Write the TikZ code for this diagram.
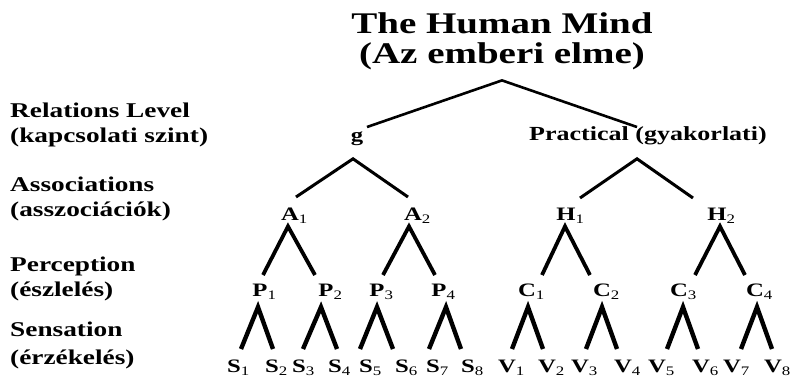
\documentclass[tikz,border=0pt]{standalone}
\usepackage{fontspec}
\setmainfont{Liberation Serif}[FakeStretch=1.3]
\usetikzlibrary{calc}

% index digit that does not widen the node
\newcommand\lowidx[1]{\rlap{\raisebox{-3pt}{\fontsize{13}{13}\selectfont\mdseries #1}}}

\begin{document}
\begin{tikzpicture}[
  x=1pt, y=-1pt,
  every node/.style={inner sep=0pt},
  heading/.style={anchor=base, font=\fontsize{30}{30}\selectfont\bfseries},
  lvl/.style={anchor=base west, align=left, font=\fontsize{21}{25}\selectfont\bfseries},
  item/.style={anchor=base, font=\fontsize{19}{19}\selectfont\bfseries},
  branch/.style={line width=#1, miter limit=20}
]
\useasboundingbox (0,0) rectangle (792,378);

\node[heading] (title) at (502,33) {The Human Mind};
\node[heading] (titlehu) at (502,63) {(Az emberi elme)};

% level names (placed by their second line)
\node[lvl] (relations) at (10,142) {Relations Level\\(kapcsolati szint)};
\node[lvl] (assoc) at (10,216) {Associations\\(asszociációk)};
\node[lvl] (percep) at (10,296) {Perception\\(észlelés)};
\node[lvl] (sensa) at (10,364) {Sensation\\[3pt](érzékelés)};

% tree
\node[item] (g) at (357,141) {g};
\node[item, font=\fontsize{20}{20}\selectfont\bfseries] (prac) at (648,140) {Practical (gyakorlati)};
\node[item] (A1) at (290,220) {A\lowidx{1}};
\node[item] (A2) at (413,220) {A\lowidx{2}};
\node[item] (H1) at (566,220) {H\lowidx{1}};
\node[item] (H2) at (717,220) {H\lowidx{2}};
\node[item] (P1) at (260,296) {P\lowidx{1}};
\node[item] (P2) at (326,296) {P\lowidx{2}};
\node[item] (P3) at (377,296) {P\lowidx{3}};
\node[item] (P4) at (439,296) {P\lowidx{4}};
\node[item] (C1) at (527,296) {C\lowidx{1}};
\node[item] (C2) at (602,296) {C\lowidx{2}};
\node[item] (C3) at (679,296) {C\lowidx{3}};
\node[item] (C4) at (755,296) {C\lowidx{4}};
\foreach \n/\x in {1/234,2/272,3/299,4/335,5/366,6/402,7/433,8/468}
  \node[item] (S\n) at (\x,372) {S\lowidx{\n}};
\foreach \n/\x in {1/507,2/547,3/580,4/623,5/657,6/701,7/732,8/773}
  \node[item] (V\n) at (\x,372) {V\lowidx{\n}};

% branches
\draw[branch=2.6pt] ($(g.base)+(10,-14)$) -- ($(titlehu.base)+(0,17.4)$) -- ($(prac.base)+(-11,-13)$);
\draw[branch=3pt] ($(A1.base)+(6,-23)$) -- ($(g.base)+(-4,17.8)$) -- ($(A2.base)+(-5,-23)$);
\draw[branch=3pt] ($(H1.base)+(14,-22)$) -- ($(prac.base)+(-11,18.8)$) -- ($(H2.base)+(-24,-22)$);
\foreach \p/\pdx/\l/\ldx/\r/\rdx in {A1/-2/P1/3/P2/-11, A2/-4/P3/6/P4/-4,
    H1/-1/C1/15/C2/-12, H2/3/C3/16/C4/-10}
  \draw[branch=3.8pt] ($(\l.base)+(\ldx,-21)$) -- ($(\p.base)+(\pdx,6.4)$) -- ($(\r.base)+(\rdx,-21)$);
\foreach \p/\pdx/\l/\ldx/\r/\rdx in {P1/-2/S1/7/S2/1, P2/-5/S3/4/S4/2,
    P3/0/S5/-6/S6/-9, P4/7/S7/-4/S8/-7, C1/1/V1/5/V2/-4, C2/0/V3/6/V4/-6,
    C3/4/V5/10/V6/-3, C4/2/V7/9/V8/-1}
  \draw[branch=4.4pt] ($(\l.base)+(\ldx,-23)$) -- ($(\p.base)+(\pdx,11.1)$) -- ($(\r.base)+(\rdx,-23)$);
\end{tikzpicture}
\end{document}
